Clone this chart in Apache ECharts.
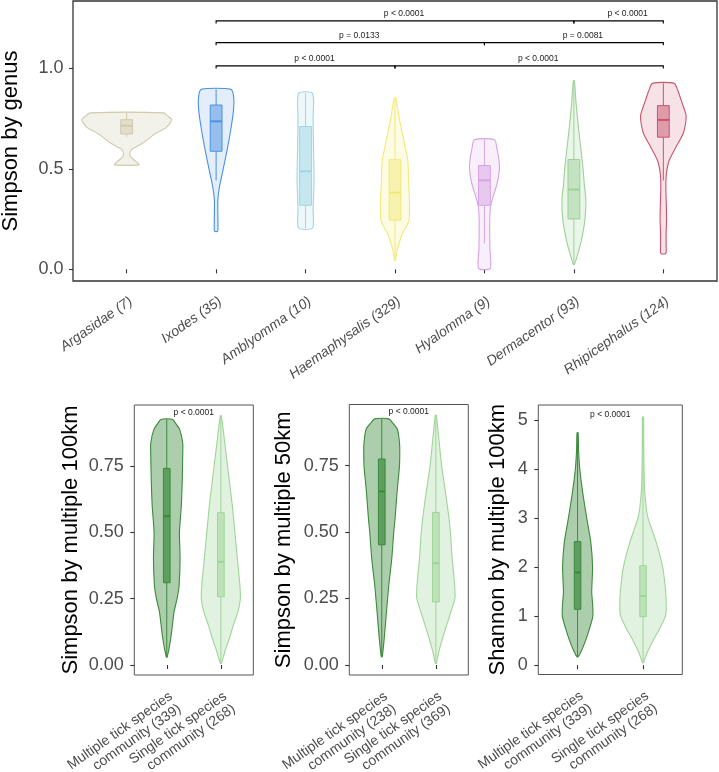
<!DOCTYPE html>
<html><head><meta charset="utf-8">
<script src="https://cdn.jsdelivr.net/npm/echarts@6/dist/echarts.min.js"></script>
<style>html,body{margin:0;padding:0;background:#fff}#c{width:719px;height:772px}</style>
</head><body><div id="c"></div>
<script>
// ===== DATA =====
const genusLabels = ['Argasidae (7)', 'Ixodes (35)', 'Amblyomma (10)', 'Haemaphysalis (329)', 'Hyalomma (9)', 'Dermacentor (93)', 'Rhipicephalus (124)'];
// violin density profiles: [value, half-width in category units]
const argasidaeDensity = [[0.52,0.136],[0.535,0.11],[0.547,0.075],[0.56,0.045],[0.572,0.034],[0.585,0.04],[0.597,0.056],[0.63,0.186],[0.674,0.313],[0.707,0.444],[0.745,0.503],[0.764,0.456],[0.779,0.41]];
const ixodesDensity = [[0.19,0.017],[0.25,0.02],[0.344,0.019],[0.41,0.037],[0.49,0.075],[0.59,0.121],[0.69,0.162],[0.79,0.194],[0.86,0.196],[0.896,0.165]];
const amblyommaDensity = [[0.206,0.078],[0.3,0.084],[0.45,0.095],[0.6,0.089],[0.75,0.084],[0.876,0.078]];
const haemaphysalisDensity = [[0.046,0.006],[0.08,0.017],[0.112,0.034],[0.145,0.056],[0.179,0.084],[0.21,0.123],[0.245,0.157],[0.3,0.162],[0.344,0.162],[0.42,0.154],[0.542,0.143],[0.6,0.117],[0.675,0.084],[0.757,0.045],[0.808,0.028],[0.856,0.006]];
const hyalommaDensity = [[0.005,0.064],[0.1,0.062],[0.18,0.059],[0.245,0.059],[0.31,0.067],[0.36,0.095],[0.41,0.131],[0.46,0.157],[0.509,0.168],[0.56,0.157],[0.6,0.14],[0.645,0.112]];
const dermacentorDensity = [[0.025,0.006],[0.08,0.045],[0.145,0.084],[0.245,0.123],[0.344,0.134],[0.42,0.117],[0.509,0.101],[0.6,0.078],[0.674,0.059],[0.76,0.039],[0.84,0.022],[0.939,0.006]];
const rhipicephalusDensity = [[0.079,0.028],[0.12,0.031],[0.179,0.031],[0.245,0.036],[0.31,0.034],[0.41,0.028],[0.476,0.034],[0.542,0.065],[0.608,0.14],[0.674,0.22],[0.72,0.246],[0.765,0.255],[0.79,0.24],[0.84,0.201],[0.89,0.162],[0.926,0.121]];
// box stats: [lower whisker, q1, median, q3, upper whisker]
const genusBoxStats = [[0.66,0.674,0.715,0.745,0.779],[0.443,0.588,0.737,0.818,0.896],[0.206,0.319,0.488,0.711,0.876],[0.05,0.245,0.382,0.546,0.85],[0.129,0.319,0.443,0.517,0.645],[0.025,0.251,0.397,0.547,0.93],[0.443,0.658,0.744,0.815,0.926]];
// significance brackets: [from category, to category, level, label]
const genusBrackets = [[2,6,1.237,'p < 0.0001'],[6,7,1.237,'p < 0.0001'],[2,5,1.129,'p = 0.0133'],[5,7,1.129,'p = 0.0081'],[2,4,1.013,'p < 0.0001'],[4,7,1.013,'p < 0.0001']];
const genusTicks = [0, 0.5, 1.0];

const communityLabels100 = ['Multiple tick species\ncommunity (339)', 'Single tick species\ncommunity (268)'];
const communityLabels50 = ['Multiple tick species\ncommunity (238)', 'Single tick species\ncommunity (369)'];
const multiple100Density = [[0.03,0.009],[0.1,0.074],[0.2,0.135],[0.25,0.191],[0.3,0.228],[0.4,0.246],[0.5,0.235],[0.6,0.269],[0.7,0.287],[0.8,0.296],[0.836,0.296],[0.886,0.241],[0.91,0.167],[0.926,0.102]];
const single100Density = [[0.006,0.009],[0.05,0.074],[0.1,0.157],[0.15,0.231],[0.2,0.315],[0.25,0.361],[0.3,0.352],[0.4,0.306],[0.5,0.259],[0.6,0.213],[0.75,0.124],[0.85,0.065],[0.94,0.009]];
const multiple50Density = [[0.031,0.009],[0.1,0.046],[0.2,0.087],[0.3,0.13],[0.4,0.185],[0.5,0.222],[0.55,0.246],[0.65,0.283],[0.75,0.328],[0.8,0.333],[0.836,0.328],[0.886,0.291],[0.91,0.204],[0.926,0.13]];
const single50Density = [[0.006,0.009],[0.05,0.056],[0.1,0.124],[0.15,0.2],[0.2,0.278],[0.25,0.352],[0.3,0.348],[0.4,0.302],[0.5,0.269],[0.6,0.213],[0.75,0.107],[0.85,0.056],[0.94,0.009]];
const multipleShannonDensity = [[0.17,0.008],[0.3,0.061],[0.5,0.122],[0.75,0.183],[1.0,0.233],[1.25,0.229],[1.5,0.216],[2.0,0.229],[2.5,0.203],[3.0,0.14],[3.5,0.081],[4.0,0.034],[4.4,0.015],[4.74,0.008]];
const singleShannonDensity = [[0.05,0.008],[0.25,0.061],[0.5,0.152],[0.75,0.255],[1.0,0.343],[1.2,0.355],[1.5,0.346],[2.0,0.3],[2.5,0.203],[3.0,0.076],[3.2,0.05],[3.6,0.023],[4.0,0.015],[4.5,0.011],[5.06,0.008]];
const simpson100Box = [[0.03,0.31,0.561,0.741,0.926],[0.006,0.257,0.389,0.574,0.94]];
const simpson50Box = [[0.031,0.452,0.653,0.775,0.926],[0.006,0.237,0.383,0.574,0.94]];
const shannon100Box = [[0.17,1.14,1.89,2.52,4.74],[0.05,0.99,1.41,2.03,5.06]];
const simpsonTicks = [0, 0.25, 0.5, 0.75];
const shannonTicks = [0, 1, 2, 3, 4, 5];
const pairLabel = 'p < 0.0001';
const simpsonPLevel = 0.952;
const shannonPLevel = 5.1;

// ===== STYLES =====
const FONT = '"Liberation Sans", Arial, sans-serif';
const genusColors = ['#CFCAAC', '#4A90E2', '#9ED6E6', '#F2EA78', '#D6A4E6', '#9DD197', '#C9546F'];
const genusViolinAlpha = [0.25, 0.15, 0.18, 0.2, 0.18, 0.2, 0.17];
const communityColors = ['#3C8A3C', '#9FD598'];
const communityViolinAlpha = [0.42, 0.3];
const communityBoxAlpha = [0.7, 0.55];

function rgba(hex, a) {
  const n = parseInt(hex.slice(1), 16);
  return 'rgba(' + (n >> 16) + ',' + ((n >> 8) & 255) + ',' + (n & 255) + ',' + a + ')';
}

function violinSeries(gridIndex, densities, boxes, colors, violinAlpha, boxAlpha, boxHalf) {
  return {
    type: 'custom', xAxisIndex: gridIndex, yAxisIndex: gridIndex, clip: false,
    data: boxes.map((b, i) => [i + 1, b[0], b[4]]),
    encode: { x: 0, y: [1, 2] },
    renderItem: function (params, api) {
      const i = params.dataIndex, cx = i + 1, d = densities[i], b = boxes[i];
      const col = colors[i];
      const right = d.map(p => api.coord([cx + p[1], p[0]]));
      const left = d.slice().reverse().map(p => api.coord([cx - p[1], p[0]]));
      const lo = api.coord([cx, b[0]]), q1 = api.coord([cx, b[1]]), q3 = api.coord([cx, b[3]]), hi = api.coord([cx, b[4]]);
      const bl = api.coord([cx - boxHalf, b[3]]), br = api.coord([cx + boxHalf, b[1]]);
      const ml = api.coord([cx - boxHalf, b[2]]), mr = api.coord([cx + boxHalf, b[2]]);
      const ba = Array.isArray(boxAlpha) ? boxAlpha[i] : boxAlpha;
      const va = Array.isArray(violinAlpha) ? violinAlpha[i] : violinAlpha;
      return {
        type: 'group', children: [
          { type: 'polygon', shape: { points: right.concat(left), smooth: 0.25 }, style: { fill: rgba(col, va), stroke: col, lineWidth: 1.1 } },
          { type: 'line', shape: { x1: lo[0], y1: lo[1], x2: q1[0], y2: q1[1] }, style: { stroke: col, lineWidth: 1 } },
          { type: 'line', shape: { x1: q3[0], y1: q3[1], x2: hi[0], y2: hi[1] }, style: { stroke: col, lineWidth: 1 } },
          { type: 'rect', shape: { x: bl[0], y: bl[1], width: br[0] - bl[0], height: br[1] - bl[1] }, style: { fill: rgba(col, ba), stroke: col, lineWidth: 1 } },
          { type: 'line', shape: { x1: ml[0], y1: ml[1], x2: mr[0], y2: mr[1] }, style: { stroke: col, lineWidth: 2 } }
        ]
      };
    }
  };
}

function xAxisDef(gridIndex, n, labels, italic, margin) {
  const vals = labels.map((_, i) => i + 1);
  return {
    gridIndex: gridIndex, type: 'value', min: 0.4, max: n + 0.6,
    axisLine: { show: false }, splitLine: { show: false },
    axisTick: { show: true, customValues: vals, length: 4, lineStyle: { color: '#333', width: 1.1 } },
    axisLabel: { customValues: vals, formatter: v => labels[Math.round(v) - 1], rotate: 35, margin: margin,
      align: 'right', verticalAlign: 'top', hideOverlap: false,
      fontSize: 14, color: '#4D4D4D', fontFamily: FONT, fontStyle: italic ? 'italic' : 'normal', lineHeight: 15 }
  };
}
function yAxisDef(gridIndex, min, max, ticks, digits, name, gap, margin) {
  return {
    gridIndex: gridIndex, type: 'value', min: min, max: max,
    axisLine: { show: false }, splitLine: { show: false },
    axisTick: { show: true, customValues: ticks, length: 4, lineStyle: { color: '#333', width: 1.1 } },
    axisLabel: { customValues: ticks, formatter: v => v.toFixed(digits), margin: margin, fontSize: 18, color: '#4D4D4D', fontFamily: FONT },
    name: name, nameLocation: 'middle', nameGap: gap, nameRotate: 90,
    nameTextStyle: { fontSize: 22, color: '#000', fontFamily: FONT }
  };
}
function textSeries(gridIndex, x, y, text) {
  return {
    type: 'custom', xAxisIndex: gridIndex, yAxisIndex: gridIndex, clip: false,
    data: [[x, y]],
    renderItem: function (params, api) {
      const p = api.coord([api.value(0), api.value(1)]);
      return { type: 'text', style: { text: text, x: p[0], y: p[1], align: 'center', verticalAlign: 'middle', font: '8.5px ' + FONT, fill: '#222' } };
    }
  };
}

const gridBase = { show: true, containLabel: false, outerBoundsMode: 'none' };
const option = {
  animation: false,
  backgroundColor: '#fff',
  grid: [
    Object.assign({ left: 73, top: 1, width: 644, height: 280, borderColor: '#333', borderWidth: 1.3 }, gridBase),
    Object.assign({ left: 134.3, top: 405, width: 119, height: 270, borderColor: '#555', borderWidth: 1 }, gridBase),
    Object.assign({ left: 349.3, top: 404.5, width: 119, height: 270.5, borderColor: '#555', borderWidth: 1 }, gridBase),
    Object.assign({ left: 538.3, top: 405, width: 144, height: 269.5, borderColor: '#555', borderWidth: 1 }, gridBase)
  ],
  xAxis: [
    xAxisDef(0, 7, genusLabels, true, 13),
    xAxisDef(1, 2, communityLabels100, false, 14),
    xAxisDef(2, 2, communityLabels50, false, 14),
    xAxisDef(3, 2, communityLabels100, false, 14)
  ],
  yAxis: [
    yAxisDef(0, -0.058, 1.336, genusTicks, 1, 'Simpson by genus', 51, 9.5),
    yAxisDef(1, -0.0377, 0.98, simpsonTicks, 2, 'Simpson by multiple 100km', 52, 10.5),
    yAxisDef(2, -0.0377, 0.98, simpsonTicks, 2, 'Simpson by multiple 50km', 54, 10.5),
    yAxisDef(3, -0.19, 5.306, shannonTicks, 0, 'Shannon by multiple 100km', 29, 10.5)
  ],
  series: [
    violinSeries(0, [argasidaeDensity, ixodesDensity, amblyommaDensity, haemaphysalisDensity, hyalommaDensity, dermacentorDensity, rhipicephalusDensity],
      genusBoxStats, genusColors, genusViolinAlpha, 0.5, 0.066),
    {
      type: 'custom', xAxisIndex: 0, yAxisIndex: 0, clip: false,
      data: genusBrackets.map(b => [b[0], b[1], b[2]]),
      encode: { x: [0, 1], y: 2 },
      renderItem: function (params, api) {
        const b = genusBrackets[params.dataIndex];
        const a = api.coord([b[0], b[2]]), c = api.coord([b[1], b[2]]);
        const at = api.coord([b[0], b[2] - 0.013]), ct = api.coord([b[1], b[2] - 0.013]);
        return { type: 'group', children: [
          { type: 'polyline', shape: { points: [at, a, c, ct] }, style: { stroke: '#000', lineWidth: 1.1, fill: null } },
          { type: 'text', style: { text: b[3], x: (a[0] + c[0]) / 2 + 9, y: a[1] - 2.5, align: 'center', verticalAlign: 'bottom', font: '8.5px ' + FONT, fill: '#222' } }
        ] };
      }
    },
    violinSeries(1, [multiple100Density, single100Density], simpson100Box, communityColors, communityViolinAlpha, communityBoxAlpha, 0.062),
    violinSeries(2, [multiple50Density, single50Density], simpson50Box, communityColors, communityViolinAlpha, communityBoxAlpha, 0.062),
    violinSeries(3, [multipleShannonDensity, singleShannonDensity], shannon100Box, communityColors, communityViolinAlpha, communityBoxAlpha, 0.05),
    textSeries(1, 1.5, simpsonPLevel, pairLabel),
    textSeries(2, 1.5, simpsonPLevel, pairLabel),
    textSeries(3, 1.5, shannonPLevel, pairLabel)
  ]
};
const chart = echarts.init(document.getElementById('c'), null, { renderer: 'canvas' });
chart.setOption(option);
</script></body></html>
